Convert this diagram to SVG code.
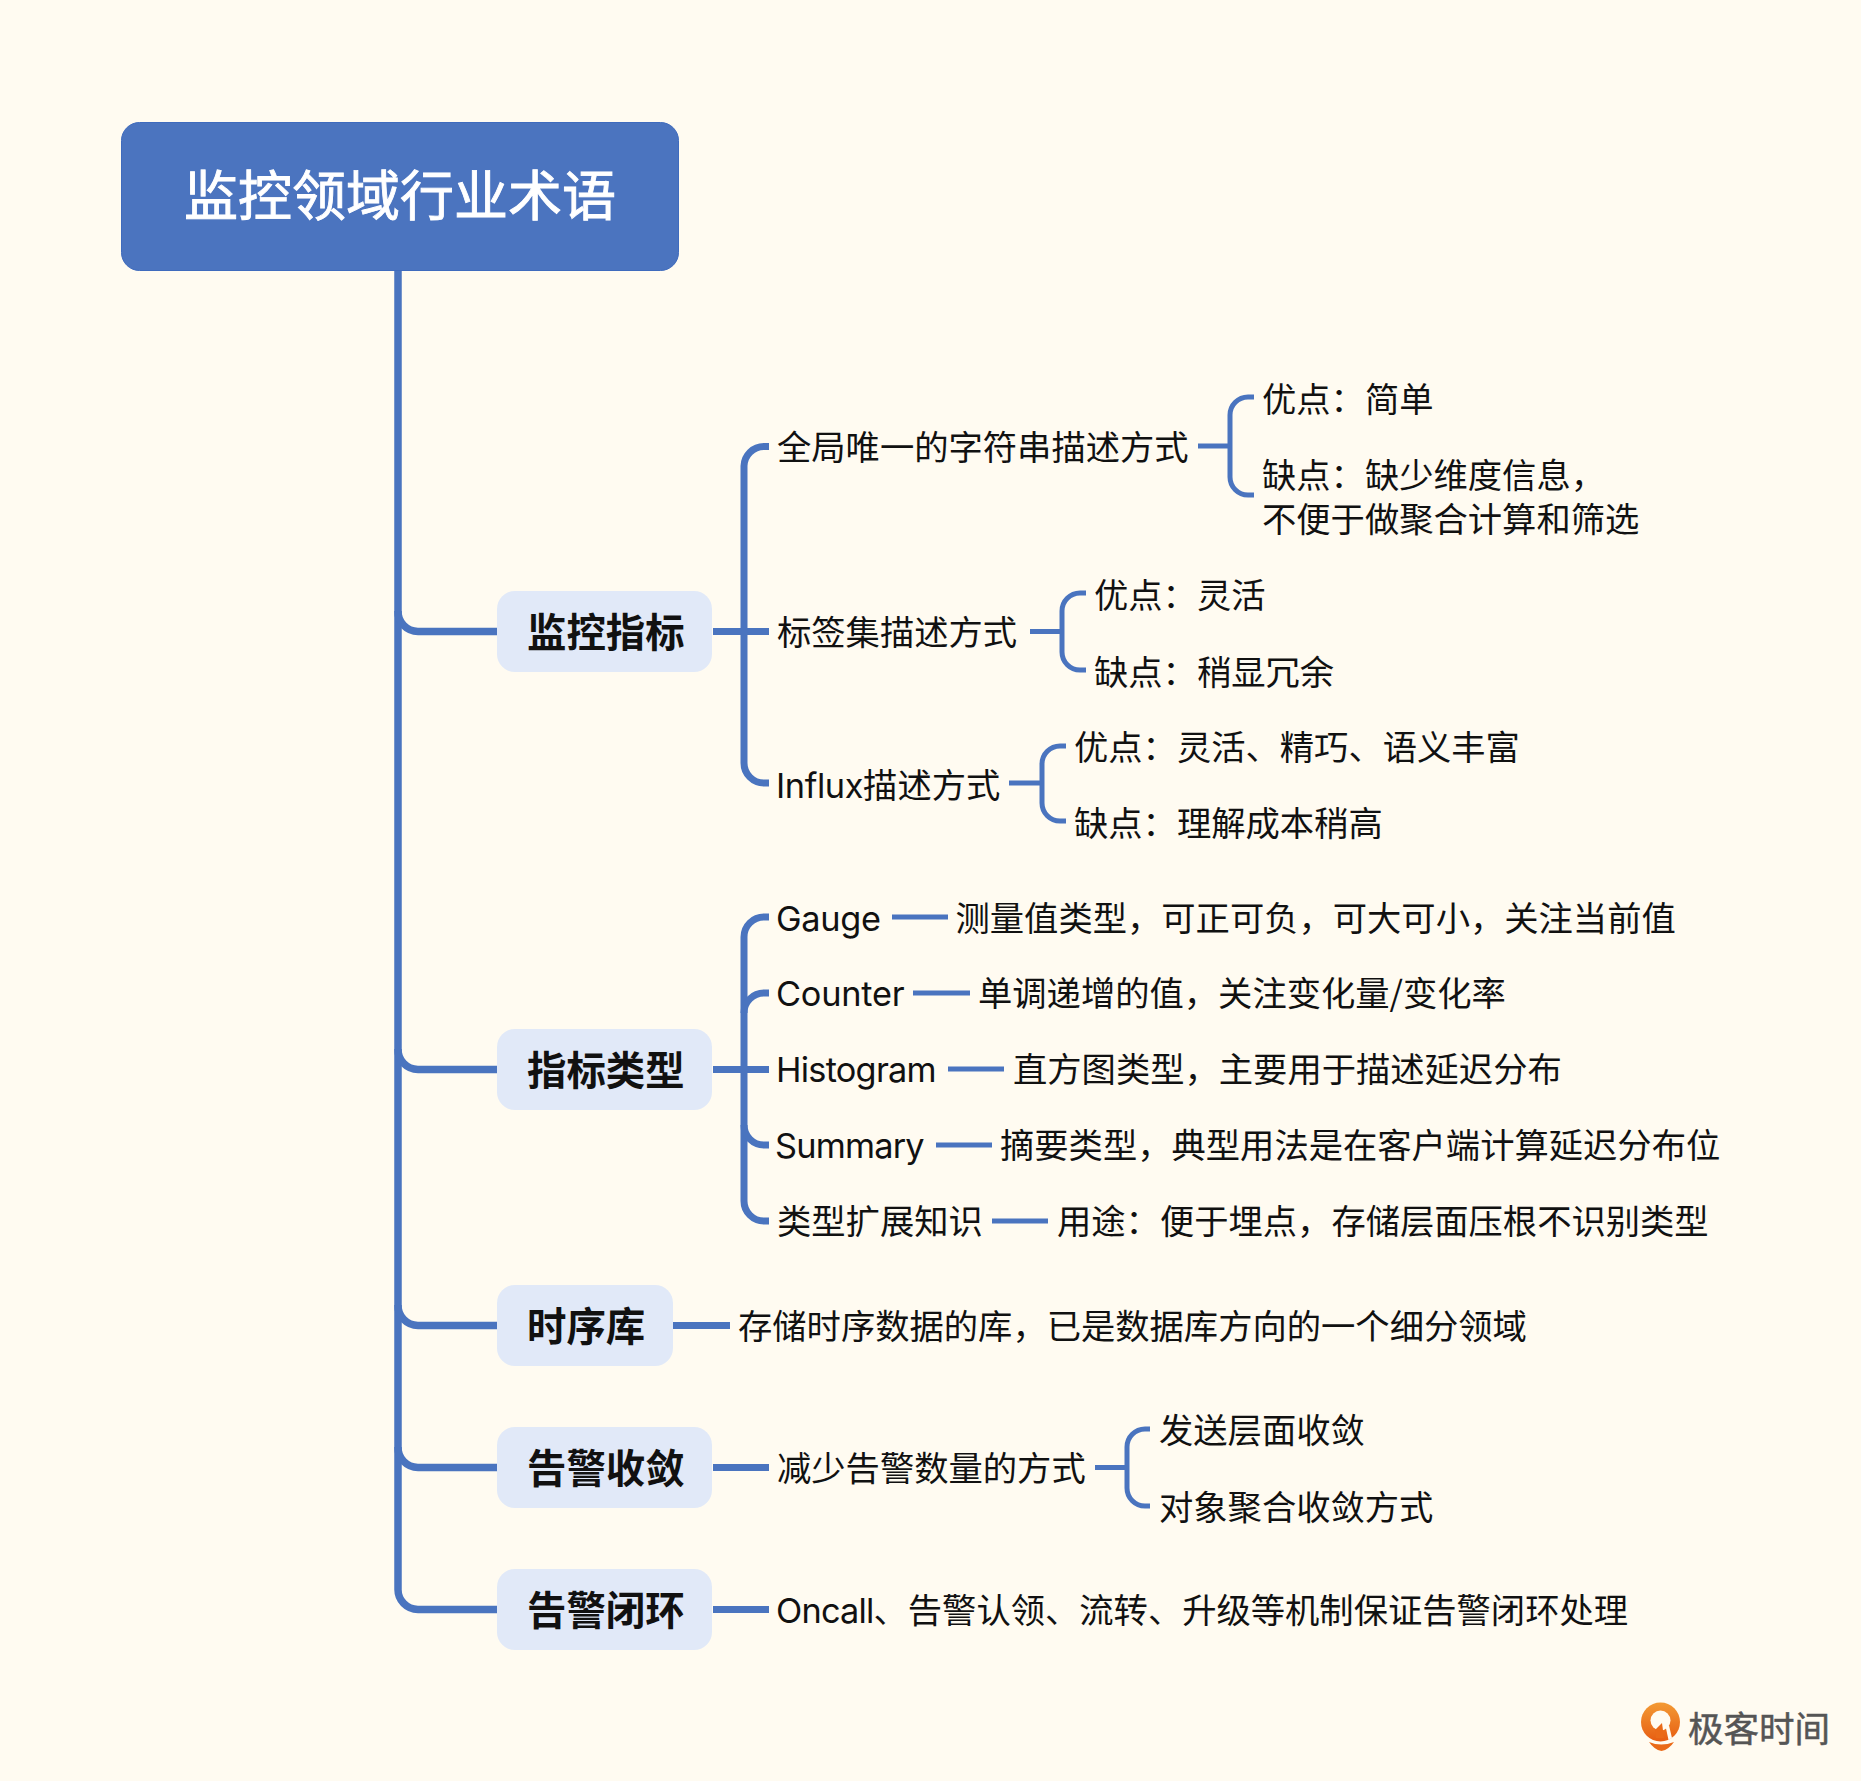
<svg xmlns="http://www.w3.org/2000/svg" width="1861" height="1781" viewBox="0 0 1861 1781">
  <style>
    text { font-family: "Noto Sans CJK SC", "Noto Sans", sans-serif; fill: #111; }
    .leaf { font-size: 34.300px; }
    .latin { font-family: "Inter", "Noto Sans CJK SC", sans-serif; }
    .topic { font-size: 39.400px; font-weight: 700; }
    .card { fill: #e1e9f8; }
    .trunk, .limb, .twig { fill: none; stroke: #4a74bf; }
    .trunk { stroke-width: 7.500; }
    .limb { stroke-width: 7; }
    .twig { stroke-width: 5; }
  </style>
  <defs>
    <linearGradient id="brand" x1="0" y1="0" x2="0" y2="1">
      <stop offset="0" stop-color="#f39a34"/>
      <stop offset="1" stop-color="#e75d12"/>
    </linearGradient>
  </defs>
  <rect width="1861" height="1781" fill="#fffbf1"/>

  <g id="connectors">
    <path class="trunk" d="M398 271V1589A20 20 0 0 0 418 1609.500H497"/>
    <path class="trunk" d="M398 611A20 20 0 0 0 418 631.500H497"/>
    <path class="trunk" d="M398 1049A20 20 0 0 0 418 1069.500H497"/>
    <path class="trunk" d="M398 1305A20 20 0 0 0 418 1325.500H497"/>
    <path class="trunk" d="M398 1447A20 20 0 0 0 418 1467.500H497"/>

    <path class="limb" d="M769 446.500H764A20 20 0 0 0 744 466V763A20 20 0 0 0 764 783H769"/>
    <path class="limb" d="M713 631.500H769"/>
    <path class="limb" d="M769 917H764A20 20 0 0 0 744 937V1201A20 20 0 0 0 764 1221H769"/>
    <path class="limb" d="M769 993H764A20 20 0 0 0 744 1013"/>
    <path class="limb" d="M744 1125A20 20 0 0 0 764 1145H769"/>
    <path class="limb" d="M713 1069.500H769"/>
    <path class="limb" d="M673 1325.500H730"/>
    <path class="limb" d="M713 1467.500H769"/>
    <path class="limb" d="M713 1609.500H769"/>

    <path class="twig" d="M1198 446H1230M1254 397H1248A18 18 0 0 0 1230 415V477A18 18 0 0 0 1248 495H1254"/>
    <path class="twig" d="M1030 631.500H1062M1086 593H1080A18 18 0 0 0 1062 611V652A18 18 0 0 0 1080 670H1086"/>
    <path class="twig" d="M1009 783H1042M1066 746H1060A18 18 0 0 0 1042 764V803A18 18 0 0 0 1060 821H1066"/>
    <path class="twig" d="M892 917H948"/>
    <path class="twig" d="M913 993H970"/>
    <path class="twig" d="M948 1069H1004"/>
    <path class="twig" d="M936 1145H992"/>
    <path class="twig" d="M992 1221H1048"/>
    <path class="twig" d="M1095 1467.500H1127M1150 1429H1145A18 18 0 0 0 1127 1447V1488A18 18 0 0 0 1145 1506H1150"/>
  </g>

  <g id="root">
    <rect x="121.500" y="122.500" width="557" height="148" rx="18" fill="#4b74bf" stroke="#3f6bbd" stroke-width="1"/>
    <text x="400" y="216" font-size="54" text-anchor="middle" stroke="#fff" stroke-width="0.900" style="fill:#fff">监控领域行业术语</text>
  </g>

  <g id="topic-metrics">
    <rect class="card" x="497" y="591" width="215" height="81" rx="18"/>
    <text class="topic" x="527" y="647">监控指标</text>
  </g>
  <g id="topic-types">
    <rect class="card" x="497" y="1029" width="215" height="81" rx="18"/>
    <text class="topic" x="527" y="1085">指标类型</text>
  </g>
  <g id="topic-tsdb">
    <rect class="card" x="497" y="1285" width="176" height="81" rx="18"/>
    <text class="topic" x="527" y="1341">时序库</text>
  </g>
  <g id="topic-convergence">
    <rect class="card" x="497" y="1427" width="215" height="81" rx="18"/>
    <text class="topic" x="527" y="1483">告警收敛</text>
  </g>
  <g id="topic-closure">
    <rect class="card" x="497" y="1569" width="215" height="81" rx="18"/>
    <text class="topic" x="527" y="1625">告警闭环</text>
  </g>

  <g id="metric-string">
    <text class="leaf" x="777" y="460">全局唯一的字符串描述方式</text>
    <text class="leaf" x="1262" y="412">优点：简单</text>
    <text class="leaf" x="1262" y="488">缺点：缺少维度信息，</text>
    <text class="leaf" x="1262" y="532">不便于做聚合计算和筛选</text>
  </g>
  <g id="metric-labels">
    <text class="leaf" x="777" y="645">标签集描述方式</text>
    <text class="leaf" x="1094" y="608">优点：灵活</text>
    <text class="leaf" x="1094" y="685">缺点：稍显冗余</text>
  </g>
  <g id="metric-influx">
    <text class="leaf" x="776" y="798"><tspan class="latin" letter-spacing="-0.400">Influx</tspan>描述方式</text>
    <text class="leaf" x="1074" y="760">优点：灵活、精巧、语义丰富</text>
    <text class="leaf" x="1074" y="836">缺点：理解成本稍高</text>
  </g>

  <g id="type-gauge">
    <text class="leaf latin" x="776" y="931" letter-spacing="-0.300">Gauge</text>
    <text class="leaf" x="955.500" y="931">测量值类型，可正可负，可大可小，关注当前值</text>
  </g>
  <g id="type-counter">
    <text class="leaf latin" x="776" y="1006" letter-spacing="-0.200">Counter</text>
    <text class="leaf" x="978" y="1006">单调递增的值，关注变化量/变化率</text>
  </g>
  <g id="type-histogram">
    <text class="leaf latin" x="776" y="1082" letter-spacing="-0.750">Histogram</text>
    <text class="leaf" x="1013" y="1082">直方图类型，主要用于描述延迟分布</text>
  </g>
  <g id="type-summary">
    <text class="leaf latin" x="775" y="1158" letter-spacing="-0.800">Summary</text>
    <text class="leaf" x="1000" y="1158">摘要类型，典型用法是在客户端计算延迟分布位</text>
  </g>
  <g id="type-extension">
    <text class="leaf" x="777" y="1234">类型扩展知识</text>
    <text class="leaf" x="1057" y="1234">用途：便于埋点，存储层面压根不识别类型</text>
  </g>

  <g id="tsdb-note">
    <text class="leaf" x="738" y="1339">存储时序数据的库，已是数据库方向的一个细分领域</text>
  </g>
  <g id="convergence-note">
    <text class="leaf" x="777" y="1481">减少告警数量的方式</text>
    <text class="leaf" x="1159" y="1443">发送层面收敛</text>
    <text class="leaf" x="1159" y="1520">对象聚合收敛方式</text>
  </g>
  <g id="closure-note">
    <text class="leaf" x="776" y="1623"><tspan class="latin" letter-spacing="-0.800">Oncall</tspan>、告警认领、流转、升级等机制保证告警闭环处理</text>
  </g>

  <g id="brand-mark">
    <circle cx="1660.500" cy="1722" r="19.500" fill="url(#brand)"/>
    <circle cx="1660.500" cy="1720.500" r="10" fill="#fffbf1"/>
    <path fill="#ea6a18" d="M1662 1723L1655 1730L1656 1738L1664 1738z"/>
    <path fill="#fffbf1" d="M1665.500 1726L1669 1725.500L1672 1738L1668.500 1740z"/>
    <path fill="#ea6a18" d="M1649 1742Q1661 1747 1674 1742Q1669 1749.500 1661.500 1751Q1654 1749.500 1649 1742z"/>
    <text x="1688" y="1742" font-size="35.500" stroke="#555" stroke-width="0.500" style="fill:#555">极客时间</text>
  </g>
</svg>
